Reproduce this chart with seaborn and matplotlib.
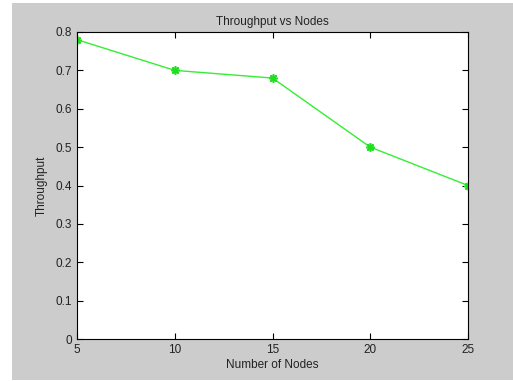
import matplotlib
matplotlib.use("Agg")
import matplotlib.pyplot as plt
import seaborn as sns
import pandas as pd
from matplotlib.patches import Rectangle

nodes = [5, 10, 15, 20, 25]
throughput = [0.78, 0.70, 0.68, 0.50, 0.40]
xticks = [5, 10, 15, 20, 25]
yticks = [0, 0.1, 0.2, 0.3, 0.4, 0.5, 0.6, 0.7, 0.8]

sns.set_style("ticks")
plt.rcParams['font.family'] = ['Liberation Sans', 'DejaVu Sans']

df = pd.DataFrame({"Nodes": nodes, "Throughput": throughput})

fig = plt.figure(figsize=(5.13, 3.81), dpi=100, facecolor="white")
W, H = 513, 381
fig.patches.append(Rectangle((12 / W, 1 / H), (W - 12) / W, (H - 4) / H,
                             transform=fig.transFigure, facecolor="#cccccc",
                             edgecolor="none", zorder=-10))
ax = fig.add_axes([77 / W, (H - 339) / H, (468 - 77) / W, (339 - 32) / H])
ax.set_facecolor("white")
sns.lineplot(data=df, x="Nodes", y="Throughput", ax=ax, color="#33ee33",
             marker=(8, 2, 0), markersize=6, markeredgewidth=1.2,
             markeredgecolor="#22dd22", linewidth=1)
ax.set_xlim(5, 25)
ax.set_ylim(0, 0.8)
ax.set_xticks(xticks)
ax.set_yticks(yticks)
ax.set_yticklabels(["0"] + [f"{v:.1f}" for v in yticks[1:]])
ax.tick_params(direction="in", top=True, right=True, labelsize=8.5, length=4,
               width=0.8, colors="black", labelcolor="#222222")
for s in ax.spines.values():
    s.set_visible(True)
    s.set_linewidth(0.8)
    s.set_color("black")
ax.set_xlabel("Number of Nodes", fontsize=8.5, labelpad=2, color="#222222")
ax.set_ylabel("Throughput", fontsize=8.5, labelpad=6, color="#222222")
ax.set_title("Throughput vs Nodes", fontsize=8.5, pad=5, color="#222222")
fig.savefig("out.png", dpi=100, facecolor="white")
